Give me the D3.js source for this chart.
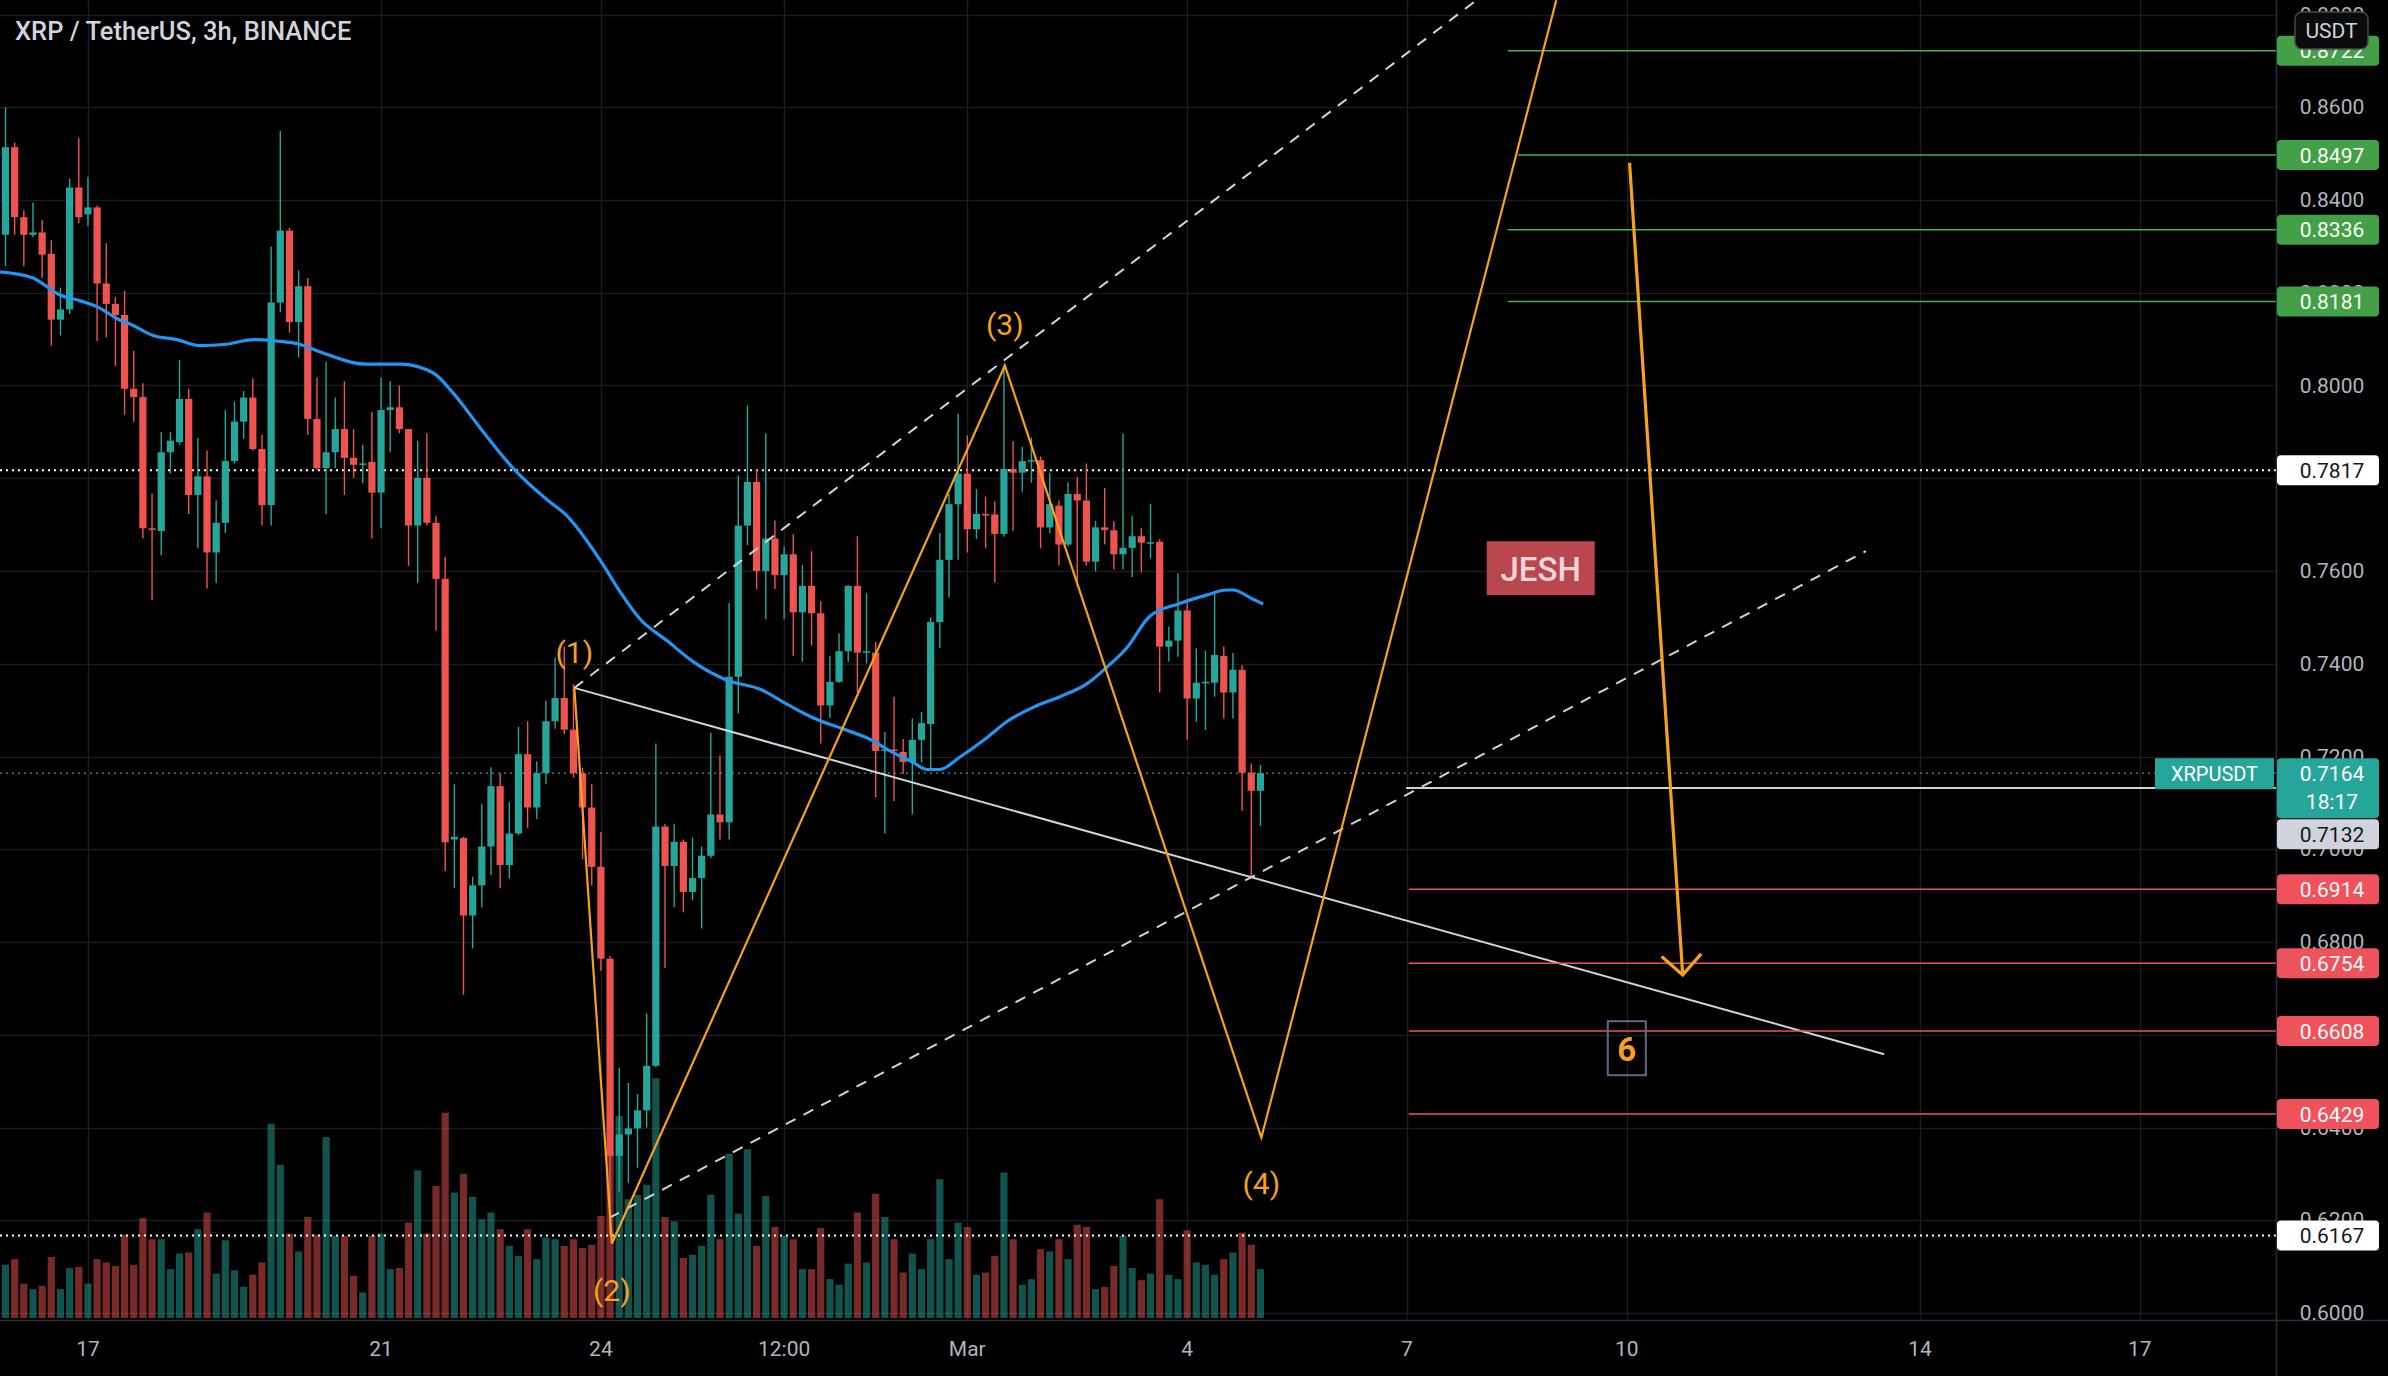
<!DOCTYPE html>
<html><head><meta charset="utf-8">
<script src="https://cdn.jsdelivr.net/npm/d3@7"></script>
<style>html,body{margin:0;padding:0;background:#000;overflow:hidden}svg{display:block}</style>
</head><body><svg id="c" width="2388" height="1376"></svg>
<script>
// ---------- DATA (XRP/USDT, 3h candles, from 2022-02-15 21:00 UTC) ----------
const startTime = Date.UTC(2022, 1, 15, 21);
const openP = [0.8325,0.8514,0.8363,0.8325,0.8330,0.8284,0.8142,0.8164,0.8427,0.8369,0.8384,0.8220,0.8176,0.8152,0.7993,0.7975,0.7692,0.7686,0.7856,0.7878,0.7971,0.7764,0.7804,0.7640,0.7704,0.7837,0.7922,0.7974,0.7863,0.7742,0.8179,0.8334,0.8137,0.8214,0.7928,0.7822,0.7856,0.7906,0.7844,0.7829,0.7835,0.7769,0.7947,0.7953,0.7906,0.7698,0.7801,0.7704,0.7583,0.7021,0.7024,0.6857,0.6922,0.7006,0.7136,0.6966,0.7034,0.7205,0.7090,0.7164,0.7276,0.7326,0.7258,0.7164,0.7090,0.6962,0.6764,0.6339,0.6385,0.6398,0.6437,0.6533,0.7049,0.6964,0.7016,0.6908,0.6938,0.6986,0.7075,0.7058,0.7372,0.7698,0.7792,0.7600,0.7670,0.7591,0.7636,0.7511,0.7568,0.7509,0.7310,0.7361,0.7427,0.7568,0.7424,0.7424,0.7213,0.7215,0.7210,0.7188,0.7236,0.7270,0.7490,0.7624,0.7744,0.7810,0.7690,0.7723,0.7722,0.7680,0.7820,0.7812,0.7837,0.7839,0.7694,0.7741,0.7657,0.7766,0.7752,0.7620,0.7694,0.7688,0.7636,0.7650,0.7675,0.7660,0.7663,0.7437,0.7450,0.7515,0.7325,0.7359,0.7359,0.7417,0.7338,0.7387,0.7165,0.7126];
const highP = [0.8600,0.8524,0.8378,0.8394,0.8357,0.8313,0.8211,0.8446,0.8533,0.8450,0.8388,0.8307,0.8191,0.8204,0.8075,0.8005,0.7767,0.7900,0.7900,0.8055,0.7993,0.7887,0.7860,0.7752,0.7947,0.7965,0.7988,0.8015,0.7893,0.8300,0.8549,0.8340,0.8248,0.8232,0.8017,0.8052,0.7974,0.8009,0.7906,0.7872,0.7943,0.8017,0.8009,0.8000,0.7906,0.7881,0.7897,0.7719,0.7630,0.7140,0.7027,0.6941,0.7098,0.7177,0.7164,0.7102,0.7264,0.7276,0.7189,0.7320,0.7413,0.7437,0.7356,0.7176,0.7140,0.7038,0.6770,0.6529,0.6496,0.6472,0.6646,0.7228,0.7055,0.7055,0.7021,0.7025,0.7006,0.7251,0.7202,0.7531,0.7806,0.7957,0.7819,0.7897,0.7709,0.7653,0.7679,0.7613,0.7643,0.7535,0.7417,0.7466,0.7570,0.7675,0.7552,0.7447,0.7253,0.7329,0.7238,0.7282,0.7296,0.7500,0.7682,0.7766,0.7939,0.7892,0.7777,0.7760,0.7750,0.8043,0.7880,0.7868,0.7888,0.7847,0.7812,0.7752,0.7791,0.7802,0.7832,0.7708,0.7779,0.7708,0.7896,0.7719,0.7692,0.7745,0.7669,0.7480,0.7595,0.7538,0.7433,0.7428,0.7553,0.7437,0.7423,0.7397,0.7185,0.7182];
const lowP = [0.8257,0.8325,0.8257,0.8320,0.8232,0.8086,0.8108,0.8154,0.8350,0.8344,0.8096,0.8104,0.8042,0.7937,0.7922,0.7670,0.7537,0.7634,0.7810,0.7872,0.7723,0.7649,0.7562,0.7574,0.7682,0.7832,0.7885,0.7860,0.7698,0.7698,0.8158,0.8114,0.8061,0.7893,0.7818,0.7723,0.7822,0.7764,0.7801,0.7789,0.7670,0.7692,0.7856,0.7897,0.7611,0.7574,0.7698,0.7471,0.6953,0.6916,0.6686,0.6786,0.6875,0.6944,0.6916,0.6937,0.7030,0.7046,0.7065,0.7140,0.7260,0.7248,0.7155,0.6979,0.6922,0.6738,0.6167,0.6261,0.6280,0.6313,0.6400,0.6530,0.6744,0.6875,0.6864,0.6890,0.6829,0.6980,0.7021,0.7021,0.7293,0.7656,0.7561,0.7496,0.7561,0.7496,0.7417,0.7404,0.7439,0.7228,0.7283,0.7359,0.7404,0.7339,0.7400,0.7112,0.7034,0.7104,0.7162,0.7075,0.7187,0.7174,0.7434,0.7543,0.7624,0.7640,0.7669,0.7649,0.7576,0.7674,0.7686,0.7771,0.7790,0.7649,0.7682,0.7612,0.7653,0.7566,0.7612,0.7599,0.7657,0.7603,0.7603,0.7587,0.7597,0.7627,0.7338,0.7405,0.7415,0.7236,0.7275,0.7257,0.7329,0.7282,0.7282,0.7083,0.6942,0.7050];
const closeP = [0.8514,0.8363,0.8325,0.8330,0.8282,0.8142,0.8164,0.8427,0.8363,0.8384,0.8220,0.8176,0.8152,0.7993,0.7975,0.7692,0.7690,0.7856,0.7881,0.7971,0.7764,0.7804,0.7640,0.7704,0.7837,0.7922,0.7974,0.7863,0.7742,0.8179,0.8334,0.8137,0.8214,0.7928,0.7822,0.7856,0.7906,0.7844,0.7829,0.7832,0.7769,0.7947,0.7953,0.7906,0.7698,0.7801,0.7704,0.7583,0.7015,0.7027,0.6857,0.6922,0.7006,0.7136,0.6966,0.7034,0.7205,0.7090,0.7164,0.7276,0.7326,0.7258,0.7164,0.7090,0.6962,0.6764,0.6339,0.6385,0.6398,0.6437,0.6533,0.7049,0.6964,0.7016,0.6908,0.6938,0.6986,0.7075,0.7058,0.7372,0.7698,0.7792,0.7600,0.7670,0.7591,0.7636,0.7511,0.7568,0.7509,0.7310,0.7361,0.7427,0.7568,0.7424,0.7427,0.7212,0.7215,0.7212,0.7188,0.7236,0.7272,0.7490,0.7624,0.7744,0.7810,0.7690,0.7723,0.7720,0.7680,0.7820,0.7812,0.7837,0.7839,0.7694,0.7744,0.7657,0.7766,0.7752,0.7620,0.7694,0.7688,0.7636,0.7650,0.7675,0.7661,0.7662,0.7437,0.7450,0.7515,0.7325,0.7359,0.7361,0.7419,0.7338,0.7387,0.7165,0.7126,0.7164];
const volumeM = [48,53,31,26,29,55,26,45,46,31,53,50,47,75,48,90,71,71,44,58,59,80,95,40,70,43,28,39,50,175,138,76,60,91,75,163,74,74,38,23,74,76,44,45,86,133,76,119,185,113,130,109,89,95,80,65,56,80,53,72,71,65,71,63,66,92,150,182,107,111,120,216,91,87,54,57,65,111,71,148,94,152,65,110,82,74,71,44,44,81,35,30,49,95,50,112,91,71,41,58,44,71,125,53,86,82,39,41,56,131,71,30,35,62,60,71,53,84,82,26,28,47,74,45,34,40,107,39,35,79,50,48,39,53,59,77,66,44];
// Moving average (read at candle positions)
const maIndex = [-0.6,3.0,5.95,8.1,10.3,12.1,14,16.1,18.7,21.2,24.1,27.1,29.6,32.1,34.3,39.4,43.1,46.7,48.9,51.8,55.4,59.1,61.3,64.9,67.1,69.3,72.2,75.1,78.7,82.4,85.3,88.2,91.8,94.7,96.2,99.1,100.6,102,104.2,107.1,109.3,112.2,115.1,118,120.2,122.4,124.9,128.2,131.1,133.3,134,136.2,137.3];
const maValue = [0.8245,0.8232,0.8195,0.8183,0.8167,0.8145,0.8129,0.8108,0.8099,0.8086,0.8089,0.8099,0.8096,0.8089,0.8073,0.8046,0.8046,0.8027,0.7983,0.7909,0.7822,0.7754,0.7719,0.7624,0.7555,0.7496,0.7450,0.7404,0.7365,0.7345,0.7313,0.7283,0.7257,0.7234,0.7216,0.7187,0.7172,0.7172,0.7199,0.7240,0.7275,0.7306,0.7329,0.7356,0.7392,0.7434,0.7502,0.7530,0.7548,0.7559,0.7559,0.7539,0.7529];
// Axis ticks
const priceTicks = [0.60,0.62,0.64,0.66,0.68,0.70,0.72,0.74,0.76,0.78,0.80,0.82,0.84,0.86,0.88];
const timeTickDates = [Date.UTC(2022,1,17),Date.UTC(2022,1,21),Date.UTC(2022,1,24),Date.UTC(2022,1,26,12),Date.UTC(2022,2,1),Date.UTC(2022,2,4),Date.UTC(2022,2,7),Date.UTC(2022,2,10),Date.UTC(2022,2,14),Date.UTC(2022,2,17)];
const timeTickLabels = ["17","21","24","12:00","Mar","4","7","10","14","17"];
// Drawings (candle index, price)
const zigzagIdx = [62.1,66.2,109.1,137.1,169.3];
const zigzagPrice = [0.7348,0.6150,0.8043,0.6378,0.8831];
const waveLabels = ["(1)","(2)","(3)","(4)"];
const waveLabelOffset = [-35,47,-41,46];
const upperChannel = [[62.1,0.7348],[160.6,0.8831]];
const lowerChannel = [[65.9,0.6205],[203.1,0.7643]];
const neckline = [[62.1,0.7348],[205.1,0.6558]];
const targetUp = [0.8722,0.8497,0.8336,0.8181];
const targetUpStart = [164,165.1,164,164];
const targetDown = [0.6914,0.6754,0.6608,0.6429];
const targetDownStart = 153.2;
const whiteLevel = 0.7132, whiteLevelStart = 152.9;
const hLevels = [0.7817,0.6167];
const lastPrice = 0.7164, countdown = "18:17";
const arrowPts = [[177.3,0.848],[183.1,0.6729]];
const jeshPos = [167.6,0.7606];
const sixPos = [177,0.6571];

// ---------- LAYOUT ----------
const W = 2388, H = 1376, axisX = 2276, axisY = 1320;
const svg = d3.select("#c");
const FONT = "Roboto, 'Noto Sans', sans-serif";
svg.append("rect").attr("width",W).attr("height",H).attr("fill","#000");

const step = 3*3600*1000;
const tOf = i => new Date(startTime + i*step);
const x = d3.scaleUtc().domain([tOf(0), tOf(137)]).range([5.5, 5.5 + 9.16*137]);
const xi = i => x(tOf(i));
const y = d3.scaleLinear().domain([0.60, 0.88]).range([1313, 14.5]);
const yv = d3.scaleLinear().domain([0, 200]).range([1318, 1318 - 222]);

const defs = svg.append("defs");
defs.append("clipPath").attr("id","plot").append("rect").attr("x",0).attr("y",0).attr("width",axisX).attr("height",axisY);

const plot = svg.append("g").attr("clip-path","url(#plot)");
// grid
plot.append("g").selectAll("line").data(priceTicks).join("line")
  .attr("x1",0).attr("x2",axisX).attr("y1",d=>Math.round(y(d))+0.5).attr("y2",d=>Math.round(y(d))+0.5)
  .attr("stroke","#1b1b1b").attr("stroke-width",1.5);
plot.append("g").selectAll("line").data(timeTickDates).join("line")
  .attr("y1",0).attr("y2",axisY).attr("x1",d=>Math.round(x(new Date(d)))+0.5).attr("x2",d=>Math.round(x(new Date(d)))+0.5)
  .attr("stroke","#1b1b1b").attr("stroke-width",1.5);

const idx = d3.range(openP.length);
const up = i => closeP[i] >= openP[i];
// volume
plot.append("g").selectAll("rect").data(idx).join("rect")
  .attr("x",i=>xi(i)-3.6).attr("width",7.2)
  .attr("y",i=>yv(volumeM[i])).attr("height",i=>yv(0)-yv(volumeM[i]))
  .attr("fill",i=>up(i)?"rgba(38,166,154,0.5)":"rgba(239,83,80,0.5)");

// level dotted lines
plot.append("g").selectAll("line").data(hLevels).join("line")
  .attr("x1",0).attr("x2",axisX).attr("y1",d=>y(d)).attr("y2",d=>y(d))
  .attr("stroke","#ffffff").attr("stroke-width",2).attr("stroke-dasharray","2,4");
plot.append("line").attr("x1",0).attr("x2",axisX).attr("y1",y(lastPrice)).attr("y2",y(lastPrice))
  .attr("stroke","#26a69a").attr("stroke-width",1.3).attr("stroke-dasharray","2,4");

// candles
const cg = plot.append("g");
cg.selectAll("line").data(idx).join("line")
  .attr("x1",i=>xi(i)).attr("x2",i=>xi(i)).attr("y1",i=>y(highP[i])).attr("y2",i=>y(lowP[i]))
  .attr("stroke",i=>up(i)?"#26a69a":"#ef5350").attr("stroke-width",1.4);
cg.selectAll("rect").data(idx).join("rect")
  .attr("x",i=>xi(i)-3.6).attr("width",7.2)
  .attr("y",i=>y(Math.max(openP[i],closeP[i])))
  .attr("height",i=>Math.max(1.5, Math.abs(y(openP[i])-y(closeP[i]))))
  .attr("fill",i=>up(i)?"#26a69a":"#ef5350");

// MA
plot.append("path").datum(d3.zip(maIndex, maValue))
  .attr("d", d3.line().x(d=>xi(d[0])).y(d=>y(d[1])).curve(d3.curveMonotoneX))
  .attr("fill","none").attr("stroke","#2196f3").attr("stroke-width",3.2);

// drawings
const line2 = d3.line().x(d=>xi(d[0])).y(d=>y(d[1]));
plot.append("path").datum(neckline).attr("d",line2).attr("stroke","#d1d4dc").attr("stroke-width",2).attr("fill","none");
[upperChannel, lowerChannel].forEach(seg=>{
  plot.append("path").datum(seg).attr("d",line2).attr("stroke","#d1d4dc").attr("stroke-width",2)
    .attr("stroke-dasharray","11,9").attr("fill","none");
});
plot.append("line").attr("x1",xi(whiteLevelStart)).attr("x2",axisX).attr("y1",y(whiteLevel)).attr("y2",y(whiteLevel))
  .attr("stroke","#d1d4dc").attr("stroke-width",2);
plot.append("g").selectAll("line").data(targetUp).join("line")
  .attr("x1",(d,k)=>xi(targetUpStart[k])).attr("x2",axisX).attr("y1",d=>y(d)).attr("y2",d=>y(d))
  .attr("stroke","#4caf50").attr("stroke-width",1.5);
plot.append("g").selectAll("line").data(targetDown).join("line")
  .attr("x1",xi(targetDownStart)).attr("x2",axisX).attr("y1",d=>y(d)).attr("y2",d=>y(d))
  .attr("stroke","#f0525c").attr("stroke-width",1.5);
plot.append("path").datum(d3.zip(zigzagIdx, zigzagPrice)).attr("d",line2)
  .attr("stroke","#f7a21b").attr("stroke-width",2.2).attr("fill","none");
// wave labels
plot.append("g").selectAll("text").data(waveLabels).join("text")
  .attr("x",(d,k)=>xi(zigzagIdx[k])).attr("y",(d,k)=>y(zigzagPrice[k])+waveLabelOffset[k])
  .attr("text-anchor","middle").attr("dominant-baseline","central")
  .attr("font-family",FONT).attr("font-size",30).attr("fill","#f7a21b").text(d=>d);
// arrow
const ax1 = xi(arrowPts[0][0]), ay1 = y(arrowPts[0][1]), ax2 = xi(arrowPts[1][0]), ay2 = y(arrowPts[1][1]);
plot.append("line").attr("x1",ax1).attr("y1",ay1).attr("x2",ax2).attr("y2",ay2).attr("stroke","#f7a21b").attr("stroke-width",3.2);
const ang = Math.atan2(ay2-ay1, ax2-ax1), hl = 28;
const wing = a => [ax2 - hl*Math.cos(ang+a), ay2 - hl*Math.sin(ang+a)];
plot.append("path").attr("d", d3.line()([wing(Math.PI/4),[ax2,ay2],wing(-Math.PI/4)]))
  .attr("stroke","#f7a21b").attr("stroke-width",3.2).attr("fill","none");
// JESH
const jx = xi(jeshPos[0]), jy = y(jeshPos[1]);
plot.append("rect").attr("x",jx-54).attr("y",jy-27).attr("width",108).attr("height",54).attr("fill","#b8474e");
plot.append("text").attr("x",jx).attr("y",jy+1).attr("text-anchor","middle").attr("dominant-baseline","central")
  .attr("font-family",FONT).attr("font-weight",500).attr("font-size",33).attr("fill","#f3d6d8").text("JESH");
// 6 box
const sx = xi(sixPos[0]), sy = y(sixPos[1]);
plot.append("rect").attr("x",sx-19).attr("y",sy-27).attr("width",38).attr("height",54).attr("fill","none")
  .attr("stroke","#5b6a85").attr("stroke-width",2);
plot.append("text").attr("x",sx).attr("y",sy+1).attr("text-anchor","middle").attr("dominant-baseline","central")
  .attr("font-family",FONT).attr("font-weight",700).attr("font-size",33).attr("fill","#f7a21b").text("6");

// title
svg.append("text").attr("x",15).attr("y",31).attr("dominant-baseline","central")
  .attr("font-family",FONT).attr("font-weight",500).attr("font-size",25.5).attr("fill","#d1d4dc")
  .text("XRP / TetherUS, 3h, BINANCE");

// axes borders
svg.append("line").attr("x1",axisX+0.5).attr("x2",axisX+0.5).attr("y1",0).attr("y2",H).attr("stroke","#2a2e39").attr("stroke-width",1.5);
svg.append("line").attr("x1",0).attr("x2",W).attr("y1",axisY+0.5).attr("y2",axisY+0.5).attr("stroke","#2a2e39").attr("stroke-width",1.5);

// time axis labels
svg.append("g").selectAll("text").data(timeTickDates).join("text")
  .attr("x",d=>x(new Date(d))).attr("y",1349).attr("text-anchor","middle").attr("dominant-baseline","central")
  .attr("font-family",FONT).attr("font-size",21).attr("fill","#b2b5be").text((d,k)=>timeTickLabels[k]);
// price ticks
svg.append("g").selectAll("text").data(priceTicks).join("text")
  .attr("x",2332).attr("y",d=>y(d)).attr("text-anchor","middle").attr("dominant-baseline","central")
  .attr("font-family",FONT).attr("font-size",21).attr("fill","#b2b5be").text(d=>d.toFixed(4));

// price labels with simple collision push-down
const labels = [];
targetUp.forEach(p=>labels.push({p, text:p.toFixed(4), bg:"#43a047", fg:"#ffffff"}));
hLevels.forEach(p=>labels.push({p, text:p.toFixed(4), bg:"#ffffff", fg:"#131722"}));
labels.push({p:lastPrice, text:lastPrice.toFixed(4), sub:countdown, bg:"#26a69a", fg:"#ffffff"});
labels.push({p:whiteLevel, text:whiteLevel.toFixed(4), bg:"#d1d4dc", fg:"#131722"});
targetDown.forEach(p=>labels.push({p, text:p.toFixed(4), bg:"#f0525c", fg:"#ffffff"}));
labels.forEach(l=>{ l.h = l.sub?60:30; l.top = y(l.p)-15; });
labels.sort((a,b)=>a.top-b.top);
for (let k=1;k<labels.length;k++){ const prev = labels[k-1]; if (labels[k].top < prev.top+prev.h+1) labels[k].top = prev.top+prev.h+1; }
const lg = svg.append("g");
labels.forEach(l=>{
  lg.append("rect").attr("x",axisX+1).attr("y",l.top).attr("width",102).attr("height",l.h).attr("rx",4).attr("fill",l.bg);
  lg.append("text").attr("x",2332).attr("y",l.top+15.5).attr("text-anchor","middle").attr("dominant-baseline","central")
    .attr("font-family",FONT).attr("font-size",21).attr("fill",l.fg).text(l.text);
  if (l.sub) lg.append("text").attr("x",2332).attr("y",l.top+44).attr("text-anchor","middle").attr("dominant-baseline","central")
    .attr("font-family",FONT).attr("font-size",21).attr("fill",l.fg).text(l.sub);
});
// symbol label
const ly = y(lastPrice);
svg.append("rect").attr("x",2155).attr("y",ly-15).attr("width",119).attr("height",31).attr("fill","#26a69a");
svg.append("text").attr("x",2214.5).attr("y",ly+0.5).attr("text-anchor","middle").attr("dominant-baseline","central")
  .attr("font-family",FONT).attr("font-size",20).attr("fill","#ffffff").text("XRPUSDT");
// currency label
svg.append("rect").attr("x",2295).attr("y",12).attr("width",73).attr("height",37).attr("rx",7)
  .attr("fill","#0b0b0b").attr("stroke","#4a4a4a").attr("stroke-width",1.5);
svg.append("text").attr("x",2331.5).attr("y",31).attr("text-anchor","middle").attr("dominant-baseline","central")
  .attr("font-family",FONT).attr("font-size",21).attr("fill","#d1d4dc").text("USDT");
</script></body></html>
